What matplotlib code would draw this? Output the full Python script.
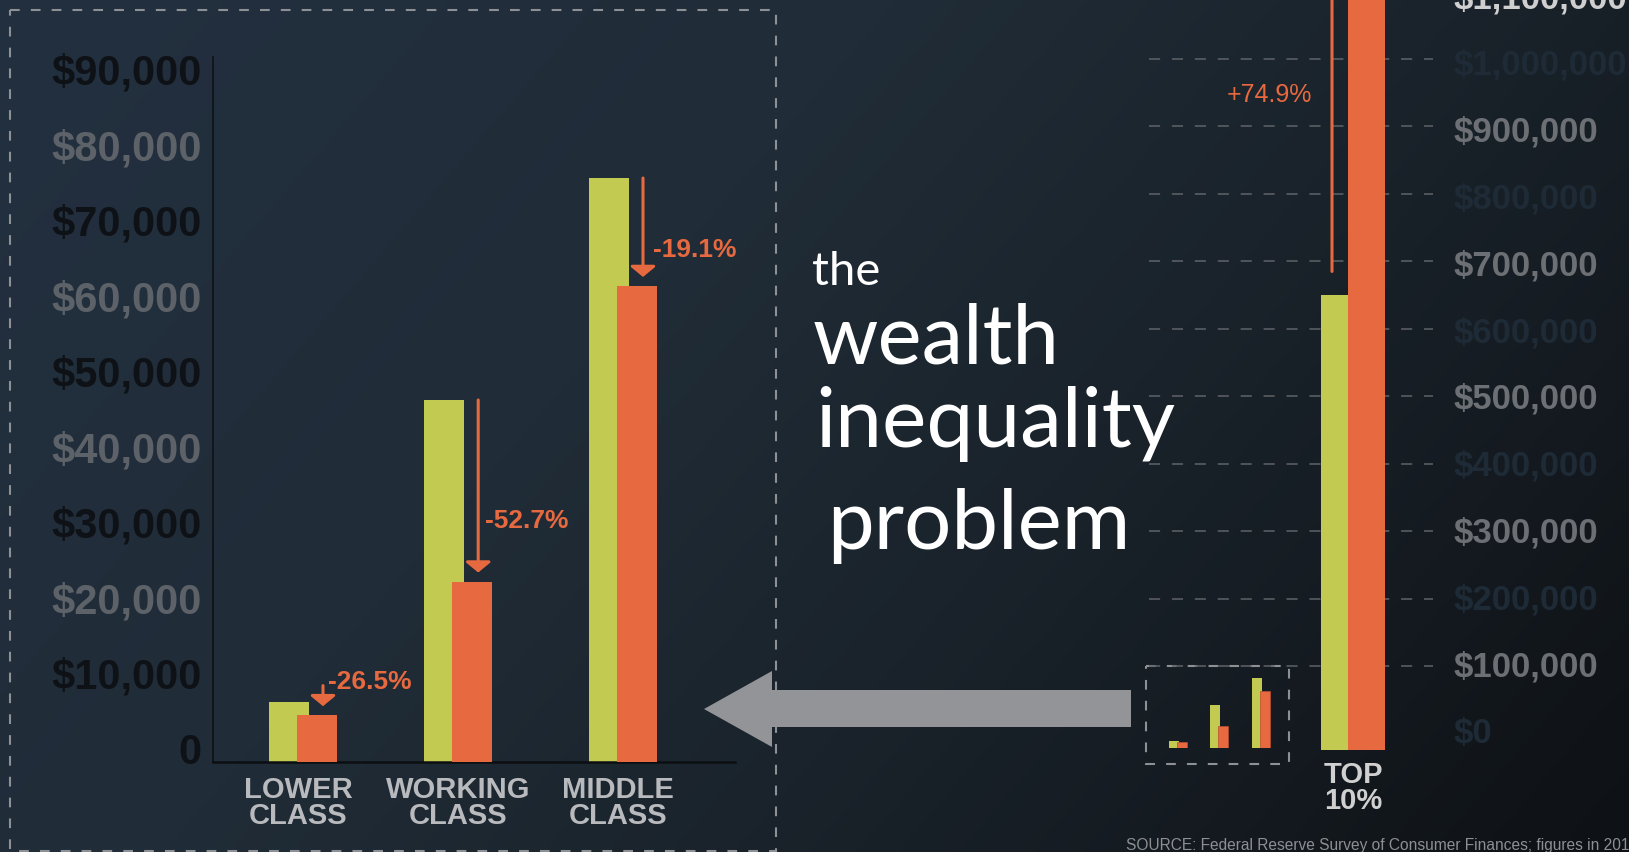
import numpy as np
import matplotlib
matplotlib.use('Agg')
import matplotlib.pyplot as plt
from matplotlib import font_manager as fm
from matplotlib.transforms import ScaledTranslation
from matplotlib.patches import Polygon, Rectangle

plt.rcParams['lines.scale_dashes'] = False

# ---------------- data ----------------
categories = ['LOWER\nCLASS', 'WORKING\nCLASS', 'MIDDLE\nCLASS']
wealth_before = [8000, 47950, 77350]
wealth_after = [6200, 23900, 63050]
pct_change = ['-26.5%', '-52.7%', '-19.1%']
left_ticks = [0, 10000, 20000, 30000, 40000, 50000, 60000, 70000, 80000, 90000]
left_tick_labels = ['0', '$10,000', '$20,000', '$30,000', '$40,000',
                    '$50,000', '$60,000', '$70,000', '$80,000', '$90,000']

top_category = ['TOP\n10%']
top_before = [674000]
top_after = [1180000]
top_pct = ['+74.9%']
right_ticks = [0, 100000, 200000, 300000, 400000, 500000, 600000,
               700000, 800000, 900000, 1000000, 1100000]
right_tick_labels = ['$0', '$100,000', '$200,000', '$300,000', '$400,000',
                     '$500,000', '$600,000', '$700,000', '$800,000',
                     '$900,000', '$1,000,000', '$1,100,000']

title_lines = ['the', 'wealth', 'inequality', 'problem']
source_text = 'SOURCE: Federal Reserve Survey of Consumer Finances; figures in 2016 dollars'

# ---------------- style / layout ----------------
GREEN = '#c3ca52'
ORANGE = '#e7693f'
DARK_LBL = '#0e1216'
GREY_LBL = '#5d6269'
R_DARK = '#1e2b36'
R_GREY = '#6c7075'
R_TOP = '#cfcfcf'
group_pos = [0.0, 0.97, 2.0]      # horizontal slots of the three groups
cat_label_dx = [-5, 0, -5]        # pixel nudges of the category labels

names = {f.name for f in fm.fontManager.ttflist}
NARROW = 'Liberation Sans Narrow' if 'Liberation Sans Narrow' in names else 'Liberation Sans'
TITLE_FONT = 'Lato' if 'Lato' in names else 'Open Sans'

W, H = 1629, 853
fig = plt.figure(figsize=(W / 100, H / 100), dpi=100)


def px_axes(x0, y0, x1, y1):
    return fig.add_axes([x0 / W, 1 - y1 / H, (x1 - x0) / W, (y1 - y0) / H])


def off(dx, dy):
    return ScaledTranslation(dx / 100, dy / 100, fig.dpi_scale_trans)


# ---------------- background ----------------
bg = fig.add_axes([0, 0, 1, 1])
bg.set_xlim(0, W)
bg.set_ylim(H, 0)
bg.axis('off')
yy, xx = np.mgrid[0:H:3, 0:W:3]
t = xx / W + 0.45 * yy / H
stops = [0.0, 0.55, 0.9, 1.45]
cols = ['#233040', '#202c37', '#1a232b', '#0e1115']
rgb = np.array([matplotlib.colors.to_rgb(c) for c in cols])
img = np.dstack([np.interp(t, stops, rgb[:, k]) for k in range(3)])
bg.imshow(img, extent=(0, W, H, 0), aspect='auto', interpolation='bilinear', zorder=0)

# left dashed frame
bg.add_patch(Rectangle((10, 11), 766, 841, fill=False, ec='#8d9094', lw=1.5,
                       linestyle=(0, (7, 8)), zorder=1))
# mini dashed frame
bg.add_patch(Rectangle((1146, 667), 143, 98, fill=False, ec='#8d9094', lw=1.5,
                       linestyle=(0, (7, 8)), zorder=1))
# big grey arrow
bg.add_patch(Polygon([(704, 710), (772, 672), (772, 691), (1131, 691),
                      (1131, 728), (772, 728), (772, 748)],
                     closed=True, fc='#929497', ec='none', zorder=2))

# title
title_x = [812, 813, 815, 827]
title_y = [285, 363, 447, 549]
title_size = [34, 60, 60.5, 60]
for s, x0, y0, fs in zip(title_lines, title_x, title_y, title_size):
    bg.text(x0, y0, s, color='white', fontsize=fs, family=TITLE_FONT,
            ha='left', va='baseline', zorder=3)

# source
bg.text(1126, 846, source_text, color='#8c8f93', fontsize=11.2, family=NARROW,
        ha='left', va='center', zorder=3)

# ---------------- left chart ----------------
PX_PER_10K = 75.5
ax = px_axes(213, 58, 735, 763)
ax.set_facecolor('none')
ax.set_ylim(0, (763 - 58) / PX_PER_10K * 10000)
pitch = 160.0
c0 = 303
ax.set_xlim((213 - c0) / pitch, (735 - c0) / pitch)
x = np.array(group_pos)
bw = 0.25
dx = 0.0875
ax.bar(x - dx, wealth_before, bw, color=GREEN, zorder=2)
ax.bar(x + dx, wealth_after, bw, color=ORANGE, zorder=3)
for s in ['top', 'right']:
    ax.spines[s].set_visible(False)
ax.spines['left'].set_color('#0c0f12')
ax.spines['left'].set_linewidth(1.1)
ax.spines['bottom'].set_color('#0c0f12')
ax.spines['bottom'].set_linewidth(1.8)
ax.set_xticks([])
ax.set_yticks([])

ytr = ax.get_yaxis_transform() + off(-11.5, 14)
for i, (v, lab) in enumerate(zip(left_ticks, left_tick_labels)):
    col = GREY_LBL if (i % 2 == 0 and i > 0) else DARK_LBL
    ax.text(0, v, lab, transform=ytr, ha='right', va='center_baseline', color=col,
            fontsize=30, family=NARROW, fontweight='bold', clip_on=False)

for xi, lab, ldx in zip(x, categories, cat_label_dx):
    ax.text(xi, 0, lab, transform=ax.get_xaxis_transform() + off(ldx, -40),
            ha='center', va='center', color='#b9babd',
            fontsize=21, family=NARROW, fontweight='bold', linespacing=0.89,
            clip_on=False)

arrow_dx = 20 / pitch
arrow_start_px = [16, 0, 0]
pct_label_y = [10700, 32100, 68000]
pct_label_dx = [5, 7, 10]
for xi, b, a, p, spx, ly, ldx in zip(x, wealth_before, wealth_after, pct_change,
                                     arrow_start_px, pct_label_y, pct_label_dx):
    xa = xi + arrow_dx
    ax.annotate('', xy=(xa, a), xytext=(xa, b + spx / PX_PER_10K * 10000),
                arrowprops=dict(arrowstyle='-|>,head_length=0.45,head_width=0.55',
                                mutation_scale=14, lw=2.2, color=ORANGE,
                                shrinkA=0, shrinkB=6.5),
                zorder=4, annotation_clip=False)
    ax.text(xa + ldx / pitch, ly, p, color=ORANGE, fontsize=19, family=NARROW,
            fontweight='bold', ha='left', va='center', zorder=4)

# ---------------- right chart ----------------
PX_PER_100K = 67.44
ax2 = px_axes(1149, 0, 1433, 751)
ax2.set_facecolor('none')
ax2.set_ylim(0, 751 / PX_PER_100K * 100000)
pitch2 = 148.0
c2 = 1353
ax2.set_xlim((1149 - c2) / pitch2, (1433 - c2) / pitch2)
for s in ax2.spines.values():
    s.set_visible(False)
ax2.set_xticks([])
ax2.set_yticks([])
x2 = np.arange(len(top_category))
bw2 = 37 / pitch2
dx2 = 13.5 / pitch2
ax2.bar(x2 - dx2, top_before, bw2, color=GREEN, zorder=2)
ax2.bar(x2 + dx2, top_after, bw2, color=ORANGE, zorder=3)

gtr = ax2.get_yaxis_transform() + off(0, 16.6)
for v in right_ticks[1:]:
    ax2.plot([0, 1], [v, v], transform=gtr, color='#5f6368', lw=1.1,
             linestyle=(0, (8, 8.5)), zorder=1, clip_on=False)

# value labels of the right scale (own axis, slightly tighter spacing)
LBL_PX_PER_100K = 66.8
axl = px_axes(1149, -40, 1433, 751)
axl.axis('off')
lo = -(751 - 730) / LBL_PX_PER_100K * 100000
axl.set_ylim(lo, lo + 791 / LBL_PX_PER_100K * 100000)
rtr = axl.get_yaxis_transform() + off(21, 0)
for i, (v, lab) in enumerate(zip(right_ticks, right_tick_labels)):
    if i == len(right_ticks) - 1:
        col = R_TOP
    else:
        col = R_GREY if i % 2 == 1 else R_DARK
    axl.text(1, v, lab, transform=rtr, ha='left', va='center_baseline', color=col,
             fontsize=25, family='Liberation Sans', fontweight='bold', clip_on=False)

x2tr = ax2.get_xaxis_transform() + off(0, -37)
for xi, lab in zip(x2, top_category):
    ax2.text(xi, 0, lab, transform=x2tr, ha='center', va='center', color='#d0d0d0',
             fontsize=21, family=NARROW, fontweight='bold', linespacing=0.88,
             clip_on=False)

xa2 = x2[0] - 21 / pitch2
ax2.annotate('', xy=(xa2, top_after[0]),
             xytext=(xa2, top_before[0] + 24 / PX_PER_100K * 100000),
             arrowprops=dict(arrowstyle='-|>,head_length=0.45,head_width=0.55',
                             mutation_scale=14, lw=2.2, color=ORANGE,
                             shrinkA=0, shrinkB=6.5),
             zorder=4, annotation_clip=False)
ax2.text(xa2 - 20 / pitch2, 972500, top_pct[0], color=ORANGE, fontsize=18,
         family='Liberation Sans', ha='right', va='center', zorder=4)

# ---------------- mini chart ----------------
PX_PER_1K_MINI = 0.905
axm = px_axes(1146, 667, 1289, 749)
axm.set_facecolor('none')
axm.set_ylim(0, (749 - 667) / PX_PER_1K_MINI * 1000)
pitch3 = 41.25
c3 = 1178
axm.set_xlim((1146 - c3) / pitch3, (1289 - c3) / pitch3)
axm.axis('off')
xm = np.arange(len(categories))
axm.bar(xm - 4 / pitch3, wealth_before, 10 / pitch3, color=GREEN, zorder=2)
axm.bar(xm + 4 / pitch3, wealth_after, 10 / pitch3, color=ORANGE,
        ec='#b8502f', lw=0.5, zorder=3)

fig.savefig('out.png', dpi=100)
